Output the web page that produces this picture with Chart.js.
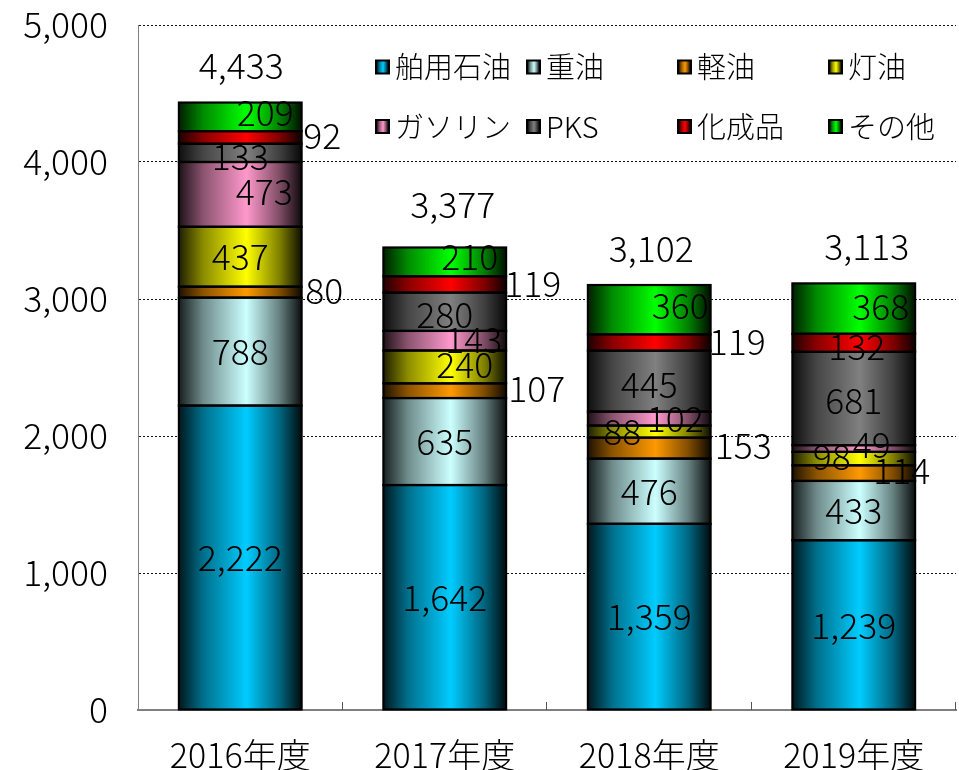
<!DOCTYPE html>
<html>
<head>
<meta charset="utf-8">
<script src="https://cdn.jsdelivr.net/npm/chart.js@4"></script>
<style>
html,body{margin:0;padding:0;background:#fff;}
canvas{display:block;}
</style>
</head>
<body>
<canvas id="c" width="959" height="770"></canvas>
<script>
// ---- data ----
const categories = ['2016年度', '2017年度', '2018年度', '2019年度'];
const seriesNames = ['舶用石油', '重油', '軽油', '灯油', 'ガソリン', 'PKS', '化成品', 'その他'];
const marineOil   = [2222, 1642, 1359, 1239];
const heavyOil    = [788, 635, 476, 433];
const lightOil    = [80, 107, 153, 114];
const kerosene    = [437, 240, 88, 98];
const gasoline    = [473, 143, 102, 49];
const pks         = [133, 280, 445, 681];
const chemicals   = [92, 119, 119, 132];
const others      = [209, 210, 360, 368];
const totals      = [4433, 3377, 3102, 3113];
const yTicks      = [0, 1000, 2000, 3000, 4000, 5000];

// ---- styling (not data) ----
const seriesColors = ['#00CCFF', '#CCFFFF', '#FF9900', '#FFFF00', '#FF99CC', '#808080', '#FF0000', '#00FF00'];
// label offsets [dx, dy] per series, per category (relative to segment centre)
const labelOffsets = [
  [[0,0],[0,0],[0,0],[0,1]],
  [[0,0],[0,0],[0,0],[0,0]],
  [[84,-2],[92,-2],[94,-3],[48,-3]],
  [[0,0],[20,-2],[-27,0],[-22,-2]],
  [[24,-3],[29,-1],[26,0],[18,-4]],
  [[0,4],[0,3],[0,3],[0,2]],
  [[82,-2],[88,-1],[88,-1],[3,4]],
  [[25,-4],[25,-5],[31,-4],[27,-2]]
];
const totalOffsets = [[1,-37],[8,-43],[2,-37],[13,-37]];
const FONT = '"Noto Sans CJK JP", "Noto Sans", sans-serif';
const WEIGHT = '300';

function hexToRgb(h){h=h.replace('#','');return [parseInt(h.substr(0,2),16),parseInt(h.substr(2,2),16),parseInt(h.substr(4,2),16)];}
function shade(hex,f){const c=hexToRgb(hex);return 'rgb('+c.map(v=>Math.round(v*f)).join(',')+')';}
function makeGradient(ctx,x0,x1,hex){
  const g=ctx.createLinearGradient(x0,0,x1,0);
  g.addColorStop(0,shade(hex,0.12));
  g.addColorStop(0.2,shade(hex,0.55));
  g.addColorStop(0.55,shade(hex,1));
  g.addColorStop(0.82,shade(hex,0.5));
  g.addColorStop(1,shade(hex,0.06));
  return g;
}

const seriesData = [marineOil, heavyOil, lightOil, kerosene, gasoline, pks, chemicals, others];
const BAR_PCT = 0.6;

const datasets = seriesNames.map((name,i)=>({
  label: name,
  data: seriesData[i],
  borderWidth: 0,
  barPercentage: BAR_PCT,
  categoryPercentage: 1.0,
  backgroundColor: function(ctx){
    const chart = ctx.chart;
    const xs = chart.scales && chart.scales.x;
    if(!xs || !chart.chartArea || ctx.dataIndex === undefined) return seriesColors[i];
    const cx = xs.getPixelForValue(ctx.dataIndex);
    const w = (xs.width / categories.length) * BAR_PCT;
    return makeGradient(chart.ctx, cx - w/2, cx + w/2, seriesColors[i]);
  }
}));

const fmt = v => v.toLocaleString('en-US');

const outlinePlugin = {
  id: 'segOutline',
  afterDatasetsDraw(chart){
    const ctx = chart.ctx;
    ctx.save();
    ctx.strokeStyle = '#000';
    ctx.lineWidth = 2.2;
    chart.data.datasets.forEach((ds,i)=>{
      chart.getDatasetMeta(i).data.forEach(el=>{
        const l = el.x - el.width/2, t = Math.min(el.y, el.base), h = Math.abs(el.base - el.y);
        ctx.strokeRect(l, t, el.width, h);
      });
    });
    ctx.restore();
  }
};

const labelsPlugin = {
  id: 'segLabels',
  afterDatasetsDraw(chart){
    const ctx = chart.ctx;
    ctx.save();
    ctx.font = WEIGHT + ' 35.5px ' + FONT;
    ctx.fillStyle = '#000';
    ctx.textAlign = 'center';
    ctx.textBaseline = 'middle';
    chart.data.datasets.forEach((ds,i)=>{
      const meta = chart.getDatasetMeta(i);
      meta.data.forEach((el,j)=>{
        const off = labelOffsets[i][j];
        const cy = (el.y + el.base)/2;
        ctx.fillText(fmt(ds.data[j]), el.x + off[0], cy + off[1]);
      });
    });
    const last = chart.getDatasetMeta(chart.data.datasets.length-1);
    totals.forEach((t,j)=>{
      const el = last.data[j];
      const off = totalOffsets[j];
      ctx.fillText(fmt(t), el.x + off[0], el.y + off[1]);
    });
    ctx.restore();
  }
};

const legendPlugin = {
  id: 'gridLegend',
  afterDraw(chart){
    const ctx = chart.ctx;
    const a = chart.chartArea;
    const x0 = a.left + 237, colW = 151;
    const rowY = [a.top + 42, a.top + 101.5];
    ctx.save();
    ctx.font = WEIGHT + ' 29px ' + FONT;
    ctx.textBaseline = 'middle';
    ctx.textAlign = 'left';
    seriesNames.forEach((n,i)=>{
      const col = i % 4, row = Math.floor(i/4);
      const bx = x0 + col*colW, by = rowY[row];
      ctx.fillStyle = '#000';
      ctx.fillRect(bx, by-7.5, 15, 15);
      ctx.fillStyle = makeGradient(ctx, bx+2, bx+13, seriesColors[i]);
      ctx.fillRect(bx+2, by-5.5, 11, 11);
      ctx.fillStyle = '#000';
      ctx.fillText(n, bx + 20, by);
    });
    ctx.restore();
  }
};

const xTickPlugin = {
  id: 'innerTicks',
  afterDatasetsDraw(chart){
    const ctx = chart.ctx;
    const xs = chart.scales.x;
    const a = chart.chartArea;
    const step = xs.width / categories.length;
    ctx.save();
    ctx.strokeStyle = '#555';
    ctx.lineWidth = 1;
    for(let k=1;k<=categories.length;k++){
      const x = Math.round(xs.left + step*k) - 0.5;
      ctx.beginPath();
      ctx.moveTo(x, a.bottom);
      ctx.lineTo(x, a.bottom - 8);
      ctx.stroke();
    }
    ctx.restore();
  }
};

new Chart(document.getElementById('c'), {
  type: 'bar',
  data: { labels: categories, datasets },
  options: {
    responsive: false,
    animation: false,
    devicePixelRatio: 1,
    layout: { padding: { top: 25, right: 3, left: 0, bottom: 0 } },
    plugins: { legend: { display: false }, tooltip: { enabled: false } },
    scales: {
      x: {
        stacked: true,
        grid: { display: false },
        border: { display: true, color: '#808080', width: 2 },
        ticks: { color: '#000', font: { family: FONT, size: 34, weight: WEIGHT }, padding: 17 },
        afterFit(s){ s.height = 60; s.paddingLeft = 0; s.paddingRight = 0; }
      },
      y: {
        stacked: true,
        min: 0, max: 5000,
        afterBuildTicks(s){ s.ticks = yTicks.map(v=>({value:v})); },
        grid: { color: '#111', lineWidth: 1, drawTicks: false },
        border: { display: true, color: '#808080', width: 1, dash: [2,2] },
        ticks: { color: '#000', font: { family: FONT, size: 35.5, weight: WEIGHT }, padding: 30, callback: v => fmt(v) },
        afterFit(s){ s.width = 138; s.paddingTop = 0; s.paddingBottom = 0; }
      }
    }
  },
  plugins: [outlinePlugin, xTickPlugin, labelsPlugin, legendPlugin]
});
</script>
</body>
</html>
